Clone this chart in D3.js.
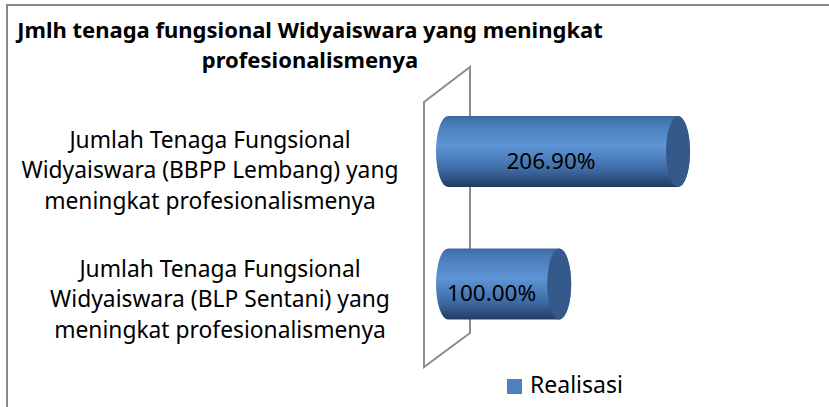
<!DOCTYPE html>
<html lang="en">
<head>
    <meta charset="UTF-8">
    <title>Jmlh tenaga fungsional Widyaiswara</title>
    <script src="https://d3js.org/d3.v7.min.js"></script>
    <style>
        body { margin: 0; background: #fff; }
        svg { display: block; font-family: "Noto Sans", sans-serif; }
        .cat-label { font-size: 22.8px; fill: #000; text-anchor: middle; }
        .val-label { font-size: 22.5px; fill: #000; text-anchor: middle; }
        .title { font-size: 22px; font-weight: bold; fill: #000; text-anchor: middle; }
        .legend { font-size: 23px; fill: #000; }
    </style>
</head>
<body>
<script>
    const categories = [
        ["Jumlah Tenaga Fungsional", "Widyaiswara (BBPP Lembang) yang", "meningkat profesionalismenya"],
        ["Jumlah Tenaga Fungsional", "Widyaiswara (BLP Sentani) yang", "meningkat profesionalismenya"]
    ];
    const values = [2.069, 1.0];
    const valueLabels = ["206.90%", "100.00%"];
    const seriesName = "Realisasi";
    const titleLines = ["Jmlh tenaga fungsional Widyaiswara yang meningkat", "profesionalismenya"];

    const width = 829, height = 407;

    const svg = d3.select("body").append("svg")
        .attr("width", width)
        .attr("height", height);

    // chart frame (runs off the right/bottom edge)
    svg.append("rect")
        .attr("x", 7).attr("y", 5)
        .attr("width", 840).attr("height", 420)
        .attr("fill", "none")
        .attr("stroke", "#8a8a8a")
        .attr("stroke-width", 2);

    const defs = svg.append("defs");
    const grad = defs.append("linearGradient")
        .attr("id", "barGrad")
        .attr("x1", 0).attr("y1", 0).attr("x2", 0).attr("y2", 1);
    grad.append("stop").attr("offset", "0%").attr("stop-color", "#3d68a0");
    grad.append("stop").attr("offset", "12%").attr("stop-color", "#4a7cbb");
    grad.append("stop").attr("offset", "42%").attr("stop-color", "#5e95d6");
    grad.append("stop").attr("offset", "75%").attr("stop-color", "#3f6ba5");
    grad.append("stop").attr("offset", "100%").attr("stop-color", "#213c63");

    const x = d3.scaleLinear().domain([0, 2.5]).range([448, 726]);
    const y = d3.scalePoint().domain(d3.range(categories.length)).range([151.5, 284]);
    const barH = 71, ry = barH / 2, rx = 12;

    // back wall
    svg.append("path")
        .attr("d", "M424,102 L470,67 L470,333 L424,367 Z")
        .attr("fill", "none")
        .attr("stroke", "#8c8c8c")
        .attr("stroke-width", 2);

    // title
    svg.selectAll("text.title")
        .data(titleLines)
        .enter().append("text")
        .attr("class", "title")
        .attr("x", 310)
        .attr("y", (d, i) => 38 + i * 30)
        .text(d => d);

    // category labels (wrapped, centred)
    const labelX = [210, 220];
    const labelDy = [26.5, 23];
    categories.forEach((lines, i) => {
        svg.append("g")
            .selectAll("text")
            .data(lines)
            .enter().append("text")
            .attr("class", "cat-label")
            .attr("x", labelX[i])
            .attr("y", (d, j) => y(i) + labelDy[i] + (j - 1) * 30.5)
            .text(d => d);
    });

    // cylinders
    const bars = svg.selectAll("g.bar")
        .data(values)
        .enter().append("g")
        .attr("class", "bar");

    bars.append("path")
        .attr("fill", "url(#barGrad)")
        .attr("d", (d, i) => {
            const x0 = x(0), x1 = x(d), cy = y(i);
            return `M${x0},${cy - ry} L${x1},${cy - ry} A${rx},${ry} 0 0 1 ${x1},${cy + ry}` +
                   ` L${x0},${cy + ry} A${rx},${ry} 0 0 1 ${x0},${cy - ry} Z`;
        });

    bars.append("ellipse")
        .attr("cx", d => x(d))
        .attr("cy", (d, i) => y(i))
        .attr("rx", rx)
        .attr("ry", ry)
        .attr("fill", "#34598a");

    bars.append("text")
        .attr("class", "val-label")
        .attr("x", d => (x(0) + x(d)) / 2 - 12)
        .attr("y", (d, i) => y(i) + 17)
        .text((d, i) => valueLabels[i]);

    // legend
    const legend = svg.append("g").attr("transform", "translate(507,379)");
    legend.append("rect")
        .attr("width", 15).attr("height", 15)
        .attr("fill", "#4f81bd");
    legend.append("text")
        .attr("class", "legend")
        .attr("x", 23).attr("y", 14)
        .text(seriesName);
</script>
</body>
</html>
